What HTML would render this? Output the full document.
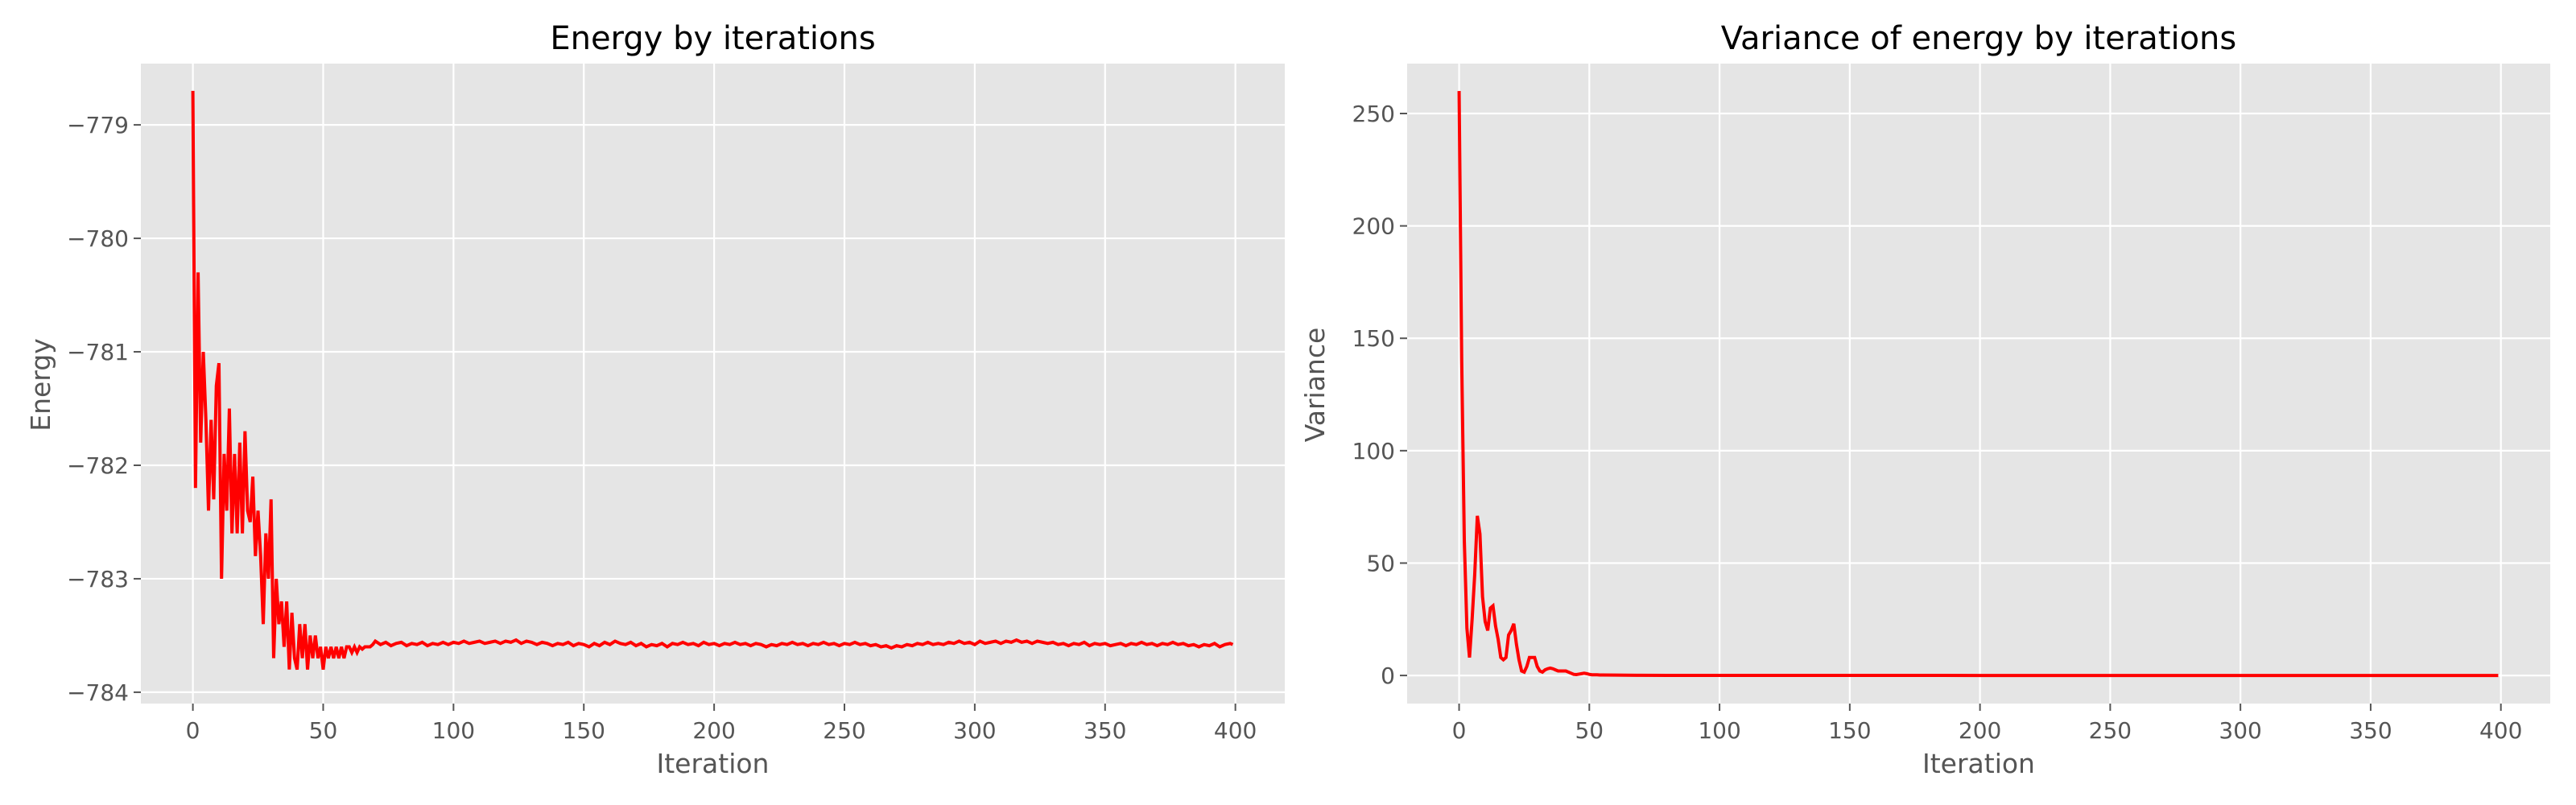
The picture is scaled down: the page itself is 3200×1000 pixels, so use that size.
<!DOCTYPE html>
<html><head><meta charset="utf-8">
<style>
html,body{margin:0;padding:0;background:#fff;}
svg{display:block;font-family:"DejaVu Sans","Liberation Sans",sans-serif;}
</style></head>
<body>
<svg id="fig" width="3200" height="1000" viewBox="0 0 3200 1000" xmlns="http://www.w3.org/2000/svg">
<rect width="3200" height="1000" fill="#fff"/>
</svg>
<script>
// ---- data ----
const energyEarly = [-778.7,-782.2,-780.3,-781.8,-781.0,-781.6,-782.4,-781.6,-782.3,-781.3,
-781.1,-783.0,-781.9,-782.4,-781.5,-782.6,-781.9,-782.6,-781.8,-782.6,
-781.7,-782.4,-782.5,-782.1,-782.8,-782.4,-782.8,-783.4,-782.6,-783.0,
-782.3,-783.7,-783.0,-783.4,-783.2,-783.6,-783.2,-783.8,-783.3,-783.7,
-783.8,-783.4,-783.7,-783.4,-783.8,-783.5,-783.7,-783.5,-783.7,-783.6,
-783.8,-783.6,-783.7,-783.6,-783.7,-783.6,-783.7,-783.6,-783.7,-783.6,
-783.6,-783.65,-783.6,-783.65,-783.6,-783.62,-783.6,-783.6,-783.6,-783.58];
const energyLate = [
-783.55,-783.58,-783.56,-783.59,-783.57,-783.56,-783.59,-783.57,-783.58,-783.56,
-783.59,-783.57,-783.58,-783.56,-783.58,-783.56,-783.57,-783.55,-783.57,-783.56,
-783.55,-783.57,-783.56,-783.55,-783.57,-783.55,-783.56,-783.54,-783.57,-783.55,
-783.56,-783.58,-783.56,-783.57,-783.59,-783.57,-783.58,-783.56,-783.59,-783.57,
-783.58,-783.60,-783.57,-783.59,-783.56,-783.58,-783.55,-783.57,-783.58,-783.56,
-783.59,-783.57,-783.60,-783.58,-783.59,-783.57,-783.60,-783.57,-783.58,-783.56,
-783.58,-783.57,-783.59,-783.56,-783.58,-783.57,-783.59,-783.57,-783.58,-783.56,
-783.58,-783.57,-783.59,-783.57,-783.58,-783.60,-783.58,-783.59,-783.57,-783.58,
-783.56,-783.58,-783.57,-783.59,-783.57,-783.58,-783.56,-783.58,-783.57,-783.59,
-783.57,-783.58,-783.56,-783.58,-783.57,-783.59,-783.58,-783.60,-783.59,-783.61,
-783.59,-783.60,-783.58,-783.59,-783.57,-783.58,-783.56,-783.58,-783.57,-783.58,
-783.56,-783.57,-783.55,-783.57,-783.56,-783.58,-783.55,-783.57,-783.56,-783.55,
-783.57,-783.55,-783.56,-783.54,-783.56,-783.55,-783.57,-783.55,-783.56,-783.57,
-783.56,-783.58,-783.57,-783.59,-783.57,-783.58,-783.56,-783.59,-783.57,-783.58,
-783.57,-783.59,-783.58,-783.57,-783.59,-783.57,-783.58,-783.56,-783.58,-783.57,
-783.59,-783.57,-783.58,-783.56,-783.58,-783.57,-783.59,-783.58,-783.60,-783.58,
-783.59,-783.57,-783.60,-783.58,-783.57,
-783.58];
const varianceEarly = [260,140,60,21,8,25,45,71,63,35,24,20,30,31,22,16,8,7,8,18,
20,23,14,7,2,1.5,4,8,8,8,4,2,1.5,2.5,3,3.3,3,2.5,2,2,
2,2,1.5,1,0.5,0.4,0.6,0.8,1,0.8,0.5,0.3,0.3,0.3,0.2,0.2];
const varianceLateIter = [60,70,80,100,150,200,250,300,350,399];
const varianceLate = [0.15,0.08,0.05,0.03,0.02,0.01,0.01,0.01,0.01,0.01];
const xTicks = [0,50,100,150,200,250,300,350,400];
const energyTicks = [-779,-780,-781,-782,-783,-784];
const varianceTicks = [0,50,100,150,200,250];

const NS = "http://www.w3.org/2000/svg";
const svg = document.getElementById('fig');
function mk(tag, attrs, parent){ const e=document.createElementNS(NS,tag); for(const k in attrs) e.setAttribute(k,attrs[k]); (parent||svg).appendChild(e); return e; }

function panel(opt){
  const g = mk('g',{});
  
  
  const L=opt.L,R=opt.R,T=79,B=874;
  const xs = v => L + (v - opt.xmin)/(opt.xmax-opt.xmin)*(R-L);
  const ys = v => B - (v - opt.ymin)/(opt.ymax-opt.ymin)*(B-T);
  const bg = mk('rect',{x:L,y:T,width:R-L,height:B-T,fill:'#e5e5e5'},g);
  
  
  xTicks.forEach(t=>{
    const x=xs(t);
    const gl=mk('line',{x1:x,x2:x,y1:T,y2:B,stroke:'#fff','stroke-width':2.2},g);
    
    
    mk('line',{x1:x,x2:x,y1:B,y2:B+9,stroke:'#555','stroke-width':2},g);
    const tx=mk('text',{x:x,y:917,'text-anchor':'middle','font-size':28,fill:'#555'},g);
    tx.textContent=String(t);
    
    
  });
  opt.yTicks.forEach(t=>{
    const y=ys(t);
    const gl=mk('line',{x1:L,x2:R,y1:y,y2:y,stroke:'#fff','stroke-width':2.2},g);
    
    
    mk('line',{x1:L-9,x2:L,y1:y,y2:y,stroke:'#555','stroke-width':2},g);
    const tx=mk('text',{x:L-15,y:y+10,'text-anchor':'end','font-size':28,fill:'#555'},g);
    tx.textContent=String(t).replace('-','\u2212');
    
    
  });
  let d='';
  opt.xv.forEach((xv,i)=>{ d += (i?'L':'M') + xs(xv).toFixed(2) + ' ' + ys(opt.yv[i]).toFixed(2); });
  const ln=mk('path',{d:d,fill:'none',stroke:'#ff0000','stroke-width':4,'stroke-linejoin':'miter'},g);
  
  
  const ti=mk('text',{x:(L+R)/2,y:61,'text-anchor':'middle','font-size':40,fill:'#000'},g);
  ti.textContent=opt.title;
  
  
  const xl=mk('text',{x:(L+R)/2,y:960,'text-anchor':'middle','font-size':33,fill:'#555'},g);
  xl.textContent='Iteration';
  
  
  const yl=mk('text',{x:opt.ylx,y:478,'text-anchor':'middle','font-size':33,fill:'#555',transform:`rotate(-90 ${opt.ylx} 478)`},g);
  yl.textContent=opt.ylabel;
  
  
}

const eX=[], eY=[];
energyEarly.forEach((v,i)=>{eX.push(i);eY.push(v);});
energyLate.forEach((v,i)=>{eX.push(Math.min(70+2*i,399));eY.push(v);});
const vX=[], vY=[];
varianceEarly.forEach((v,i)=>{vX.push(i);vY.push(v);});
varianceLateIter.forEach((it,i)=>{vX.push(it);vY.push(varianceLate[i]);});

panel({name:'energy-chart',L:175,R:1596,xmin:-19.95,xmax:418.95,ymin:-784.1,ymax:-778.46,
  yTicks:energyTicks,xv:eX,yv:eY,title:'Energy by iterations',ylabel:'Energy',ylx:62,lineName:'energy-line'});
panel({name:'variance-chart',L:1748,R:3168,xmin:-19.95,xmax:418.95,ymin:-12.5,ymax:272.2,
  yTicks:varianceTicks,xv:vX,yv:vY,title:'Variance of energy by iterations',ylabel:'Variance',ylx:1645,lineName:'variance-line'});
</script>
</body></html>
